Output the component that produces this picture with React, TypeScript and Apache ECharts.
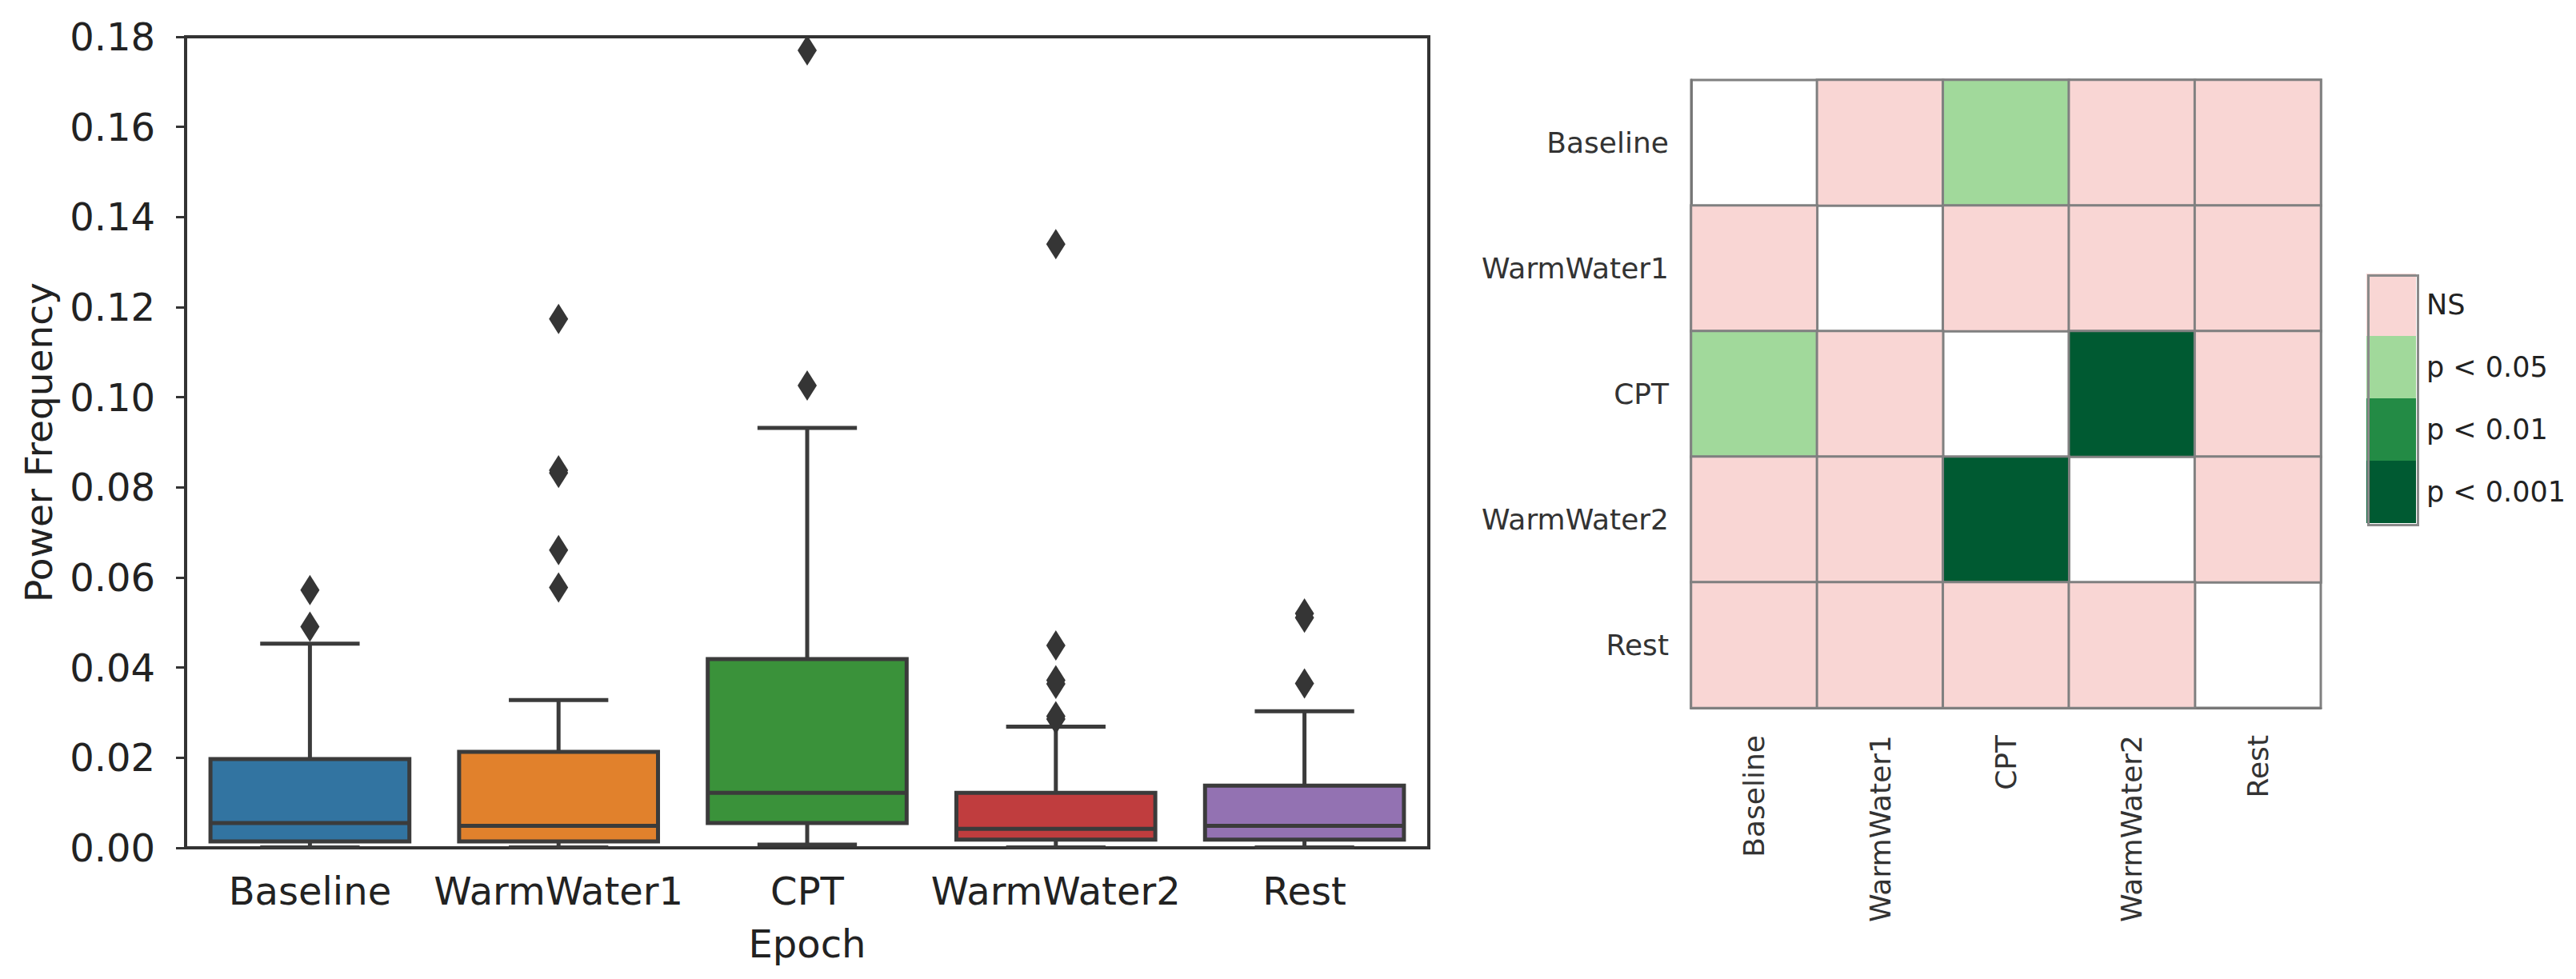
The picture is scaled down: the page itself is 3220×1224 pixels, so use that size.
import React, { useEffect, useRef } from "react";
import * as echarts from "echarts";

// ---------- data ----------
const epochs = ["Baseline", "WarmWater1", "CPT", "WarmWater2", "Rest"];
const whiskerLow = [0.0001, 0.0001, 0.0007, 0.0001, 0.0001];
const quartile1 = [0.0014, 0.0014, 0.0055, 0.0018, 0.0018];
const medians = [0.0055, 0.0049, 0.0122, 0.0042, 0.0049];
const quartile3 = [0.0197, 0.0213, 0.0419, 0.0122, 0.0138];
const whiskerHigh = [0.0453, 0.0328, 0.0932, 0.0269, 0.0303];
const outlierEpoch = [0, 0, 1, 1, 1, 1, 1, 2, 2, 3, 3, 3, 3, 3, 3, 4, 4, 4];
const outlierValue = [
  0.0572, 0.0491, 0.1174, 0.0838, 0.0832, 0.0661, 0.0578, 0.177, 0.1026, 0.134,
  0.0449, 0.0372, 0.0364, 0.0292, 0.0286, 0.052, 0.0511, 0.0365,
];
const boxColors = ["#3274a1", "#e1812c", "#3a923a", "#c03d3e", "#9372b2"];
const yMin = 0;
const yMax = 0.18;
const yStep = 0.02;

const sigLabels = ["NS", "p < 0.05", "p < 0.01", "p < 0.001"];
const sigColors = ["#f9d6d4", "#a1d99b", "#238b45", "#005a32"];
// rows = y (top to bottom), cols = x; null = diagonal (blank)
const sigMatrix: (number | null)[][] = [
  [null, 0, 1, 0, 0],
  [0, null, 0, 0, 0],
  [1, 0, null, 3, 0],
  [0, 0, 3, null, 0],
  [0, 0, 0, 0, null],
];

const FONT = "DejaVu Sans";
const EDGE = "#3b3b3b";

export default function App() {
  const ref = useRef<HTMLDivElement>(null);

  useEffect(() => {
    document.body.style.margin = "0";
    if (!ref.current) return;
    const chart = echarts.init(ref.current, undefined, { renderer: "svg" });

    const boxData = epochs.map((_, i) => [
      i,
      whiskerLow[i],
      quartile1[i],
      medians[i],
      quartile3[i],
      whiskerHigh[i],
    ]);
    const outlierData = outlierEpoch.map((e, i) => [e, outlierValue[i]]);
    const heatData: number[][] = [];
    sigMatrix.forEach((row, r) =>
      row.forEach((v, c) => {
        if (v !== null) heatData.push([c, r, v]);
      })
    );

    const option: any = {
      animation: false,
      backgroundColor: "#ffffff",
      textStyle: { fontFamily: FONT },
      grid: [
        {
          left: 232,
          top: 46,
          width: 1554,
          height: 1014,
          show: true,
          borderColor: "#333333",
          borderWidth: 4,
          backgroundColor: "transparent",
        },
        {
          left: 2114,
          top: 100,
          width: 787,
          height: 785,
          show: true,
          borderColor: "#808080",
          borderWidth: 3,
          backgroundColor: "transparent",
        },
      ],
      xAxis: [
        {
          type: "category",
          gridIndex: 0,
          data: epochs,
          boundaryGap: true,
          name: "Epoch",
          nameLocation: "middle",
          nameGap: 96,
          nameTextStyle: { fontSize: 48, color: "#222", fontFamily: FONT },
          axisLine: { lineStyle: { color: "#333333", width: 4 } },
          axisTick: {
            alignWithLabel: true,
            length: 12,
            lineStyle: { color: "#333333", width: 3 },
          },
          axisLabel: {
            interval: 0,
            fontSize: 48,
            color: "#222",
            margin: 30,
            fontFamily: FONT,
          },
          splitLine: { show: false },
        },
        {
          type: "category",
          gridIndex: 1,
          data: epochs,
          axisLine: { lineStyle: { color: "#777777", width: 3 } },
          axisTick: {
            alignWithLabel: true,
            length: 14,
            lineStyle: { color: "#444444", width: 3 },
          },
          axisLabel: {
            interval: 0,
            fontSize: 36,
            color: "#333",
            rotate: 90,
            margin: 34,
            fontFamily: FONT,
          },
          splitLine: { show: false },
          splitArea: { show: false },
        },
      ],
      yAxis: [
        {
          type: "value",
          gridIndex: 0,
          min: yMin,
          max: yMax,
          interval: yStep,
          name: "Power Frequency",
          nameLocation: "middle",
          nameGap: 160,
          nameTextStyle: { fontSize: 47, color: "#222", fontFamily: FONT },
          axisLine: { show: true, lineStyle: { color: "#333333", width: 4 } },
          axisTick: { show: true, length: 12, lineStyle: { color: "#333333", width: 3 } },
          axisLabel: {
            fontSize: 48,
            color: "#222",
            margin: 38,
            fontFamily: FONT,
            formatter: (v: number) => v.toFixed(2),
          },
          splitLine: { show: false },
        },
        {
          type: "category",
          gridIndex: 1,
          data: epochs,
          inverse: true,
          axisLine: { lineStyle: { color: "#777777", width: 3 } },
          axisTick: {
            alignWithLabel: true,
            length: 10,
            lineStyle: { color: "#444444", width: 3 },
          },
          axisLabel: {
            interval: 0,
            fontSize: 36,
            color: "#333",
            margin: 28,
            fontFamily: FONT,
          },
          splitLine: { show: false },
          splitArea: { show: false },
        },
      ],
      visualMap: {
        type: "piecewise",
        seriesIndex: 2,
        orient: "vertical",
        align: "left",
        left: 2958,
        top: 342,
        itemWidth: 62,
        itemHeight: 78,
        itemGap: 0,
        textGap: 13,
        itemSymbol: "rect",
        selectedMode: false,
        hoverLink: false,
        showLabel: true,
        inverse: true,
        padding: 0,
        textStyle: { fontSize: 35, color: "#222", fontFamily: FONT },
        pieces: sigLabels.map((label, i) => ({ value: i, label, color: sigColors[i] })),
      },
      graphic: [
        {
          type: "rect",
          left: 2958,
          top: 342,
          z: 100,
          shape: { width: 62, height: 312 },
          style: { fill: "none", stroke: "#8a8a8a", lineWidth: 3 },
        },
      ],
      series: [
        {
          type: "custom",
          xAxisIndex: 0,
          yAxisIndex: 0,
          data: boxData,
          encode: { x: 0, y: [1, 2, 3, 4, 5] },
          z: 2,
          renderItem: (params: any, api: any) => {
            const idx = api.value(0);
            const pLow = api.coord([idx, api.value(1)]);
            const pQ1 = api.coord([idx, api.value(2)]);
            const pMed = api.coord([idx, api.value(3)]);
            const pQ3 = api.coord([idx, api.value(4)]);
            const pHigh = api.coord([idx, api.value(5)]);
            const band = api.size([1, 0])[0];
            const boxW = band * 0.8;
            const capW = boxW / 2;
            const x = pMed[0];
            const ls = { stroke: EDGE, lineWidth: 5 };
            return {
              type: "group",
              children: [
                { type: "line", shape: { x1: x, y1: pQ3[1], x2: x, y2: pHigh[1] }, style: ls },
                { type: "line", shape: { x1: x, y1: pQ1[1], x2: x, y2: pLow[1] }, style: ls },
                {
                  type: "line",
                  shape: { x1: x - capW / 2, y1: pHigh[1], x2: x + capW / 2, y2: pHigh[1] },
                  style: ls,
                },
                {
                  type: "line",
                  shape: { x1: x - capW / 2, y1: pLow[1], x2: x + capW / 2, y2: pLow[1] },
                  style: ls,
                },
                {
                  type: "rect",
                  shape: { x: x - boxW / 2, y: pQ3[1], width: boxW, height: pQ1[1] - pQ3[1] },
                  style: { fill: boxColors[params.dataIndex], stroke: EDGE, lineWidth: 5 },
                },
                {
                  type: "line",
                  shape: { x1: x - boxW / 2, y1: pMed[1], x2: x + boxW / 2, y2: pMed[1] },
                  style: ls,
                },
              ],
            };
          },
        },
        {
          type: "scatter",
          xAxisIndex: 0,
          yAxisIndex: 0,
          data: outlierData,
          symbol: "diamond",
          symbolSize: [24, 38],
          itemStyle: { color: "#353535", opacity: 1 },
          z: 3,
        },
        {
          type: "heatmap",
          xAxisIndex: 1,
          yAxisIndex: 1,
          data: heatData,
          itemStyle: { borderColor: "#808080", borderWidth: 3 },
          emphasis: { disabled: true },
        },
      ],
    };

    chart.setOption(option);
    return () => chart.dispose();
  }, []);

  return <div ref={ref} style={{ width: 3220, height: 1224 }} />;
}
